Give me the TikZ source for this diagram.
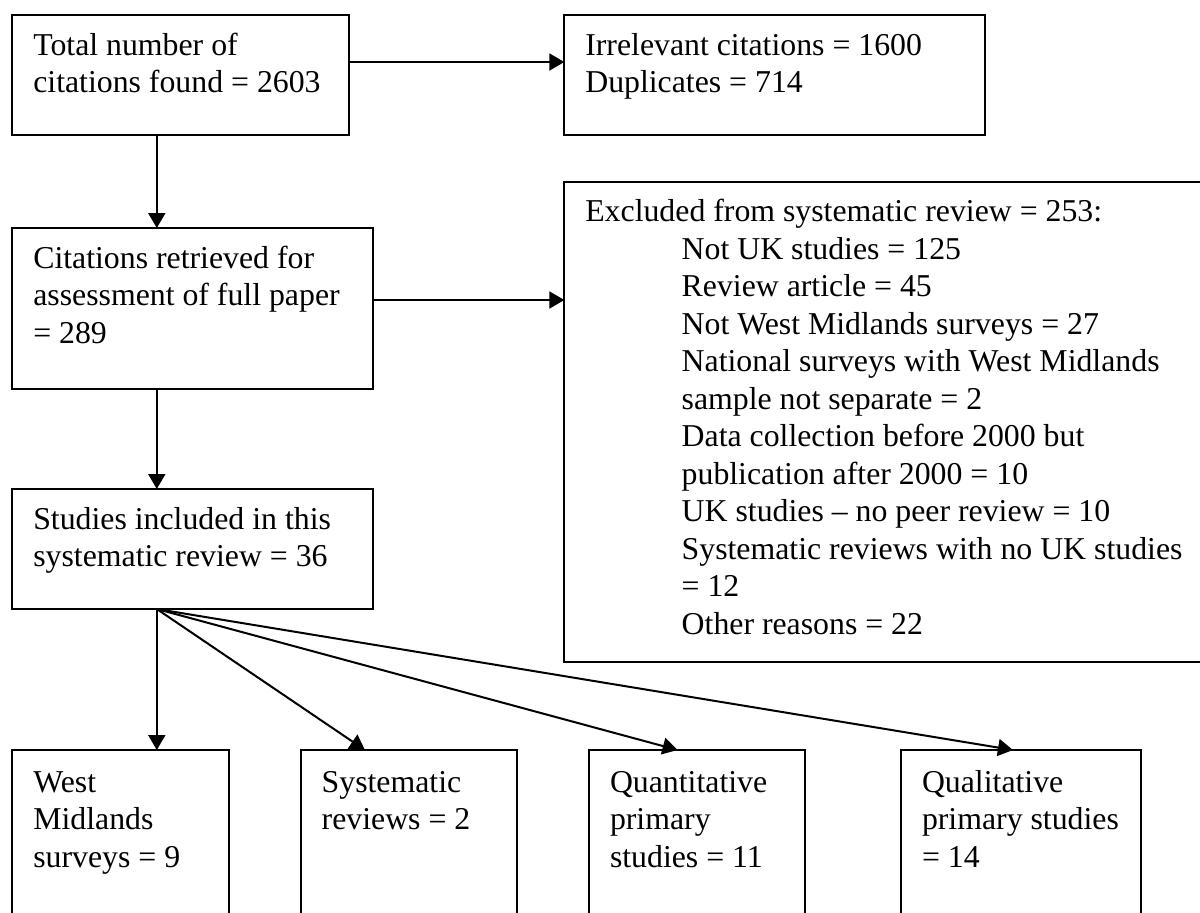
\documentclass[tikz,border=0pt]{standalone}
\usepackage{fontspec}
\setmainfont{Liberation Serif}
\usetikzlibrary{arrows.meta,calc}
\newcommand\bxt[3]{\parbox[t][#2][t]{#1}{\leftskip=10.5pt\parindent=0pt\fontsize{15.9pt}{18.75pt}\selectfont\rule{0pt}{20pt}#3}}
\newcommand\ind{\hspace*{48.2pt}}
\tikzset{
  box/.style={draw, line width=1pt, inner sep=0pt, outer sep=0pt, anchor=north west},
  arr/.style={line width=1pt, -{Triangle[length=7.5pt,width=8.5pt]}}
}
\begin{document}
\begin{tikzpicture}[x=0.5pt,y=-0.5pt]
\useasboundingbox (0,0) rectangle (1200,912);
\clip (0,0) rectangle (1200,912);
\fill[white] (0,0) rectangle (1200,912);
\node[box] (a) at (12.3,15) {\bxt{168.5pt}{60pt}{Total number of\\citations found = 2603}};
\node[box] (b) at (564.3,15) {\bxt{210.35pt}{60pt}{Irrelevant citations = 1600\\Duplicates = 714}};
\node[box] (c) at (12.3,228) {\bxt{180.5pt}{80.5pt}{Citations retrieved for\\assessment of full paper\\= 289}};
\node[box] (d) at (564.3,181.7) {\bxt{322.85pt}{240pt}{Excluded from systematic review = 253:\\
\ind Not UK studies = 125\\
\ind Review article = 45\\
\ind Not West Midlands surveys = 27\\
\ind National surveys with West Midlands\\
\ind sample not separate = 2\\
\ind Data collection before 2000 but\\
\ind publication after 2000 = 10\\
\ind UK studies -- no peer review = 10\\
\ind Systematic reviews with no UK studies\\
\ind = 12\\
\ind Other reasons = 22}};
\node[box] (e) at (12.3,489) {\bxt{180.5pt}{60pt}{Studies included in this\\systematic review = 36}};
\node[box] (f1) at (12.3,750) {\bxt{108.35pt}{86pt}{\rule{0pt}{21pt}West\\Midlands\\surveys = 9}};
\node[box] (f2) at (300.7,750) {\bxt{108.15pt}{86pt}{\rule{0pt}{21pt}Systematic\\reviews = 2}};
\node[box] (f3) at (589,750) {\bxt{108pt}{86pt}{\rule{0pt}{21pt}Quantitative\\primary\\studies = 11}};
\node[box] (f4) at (901,750) {\bxt{120.15pt}{86pt}{\rule{0pt}{21pt}Qualitative\\primary studies\\= 14}};
% connectors
\draw[arr] ($(a.north east)+(0,47)$) coordinate (ab) -- (ab -| b.west);
\draw[arr] ($(a.south west)+(144.5,0)$) coordinate (ac) -- (ac |- c.north);
\draw[arr] ($(c.north east)+(0,72)$) coordinate (cd) -- (cd -| d.west);
\draw[arr] ($(c.south west)+(144.5,0)$) coordinate (ce) -- (ce |- e.north);
\coordinate (fan) at ($(e.south west)+(144.5,0)$);
\draw[arr] (fan) -- (fan |- f1.north);
\draw[arr] (fan) -- ($(f2.north west)!0.297!(f2.north east)$);
\draw[arr] (fan) -- ($(f3.north west)!0.41!(f3.north east)$);
\draw[arr] (fan) -- ($(f4.north west)!0.466!(f4.north east)$);
\end{tikzpicture}
\end{document}
